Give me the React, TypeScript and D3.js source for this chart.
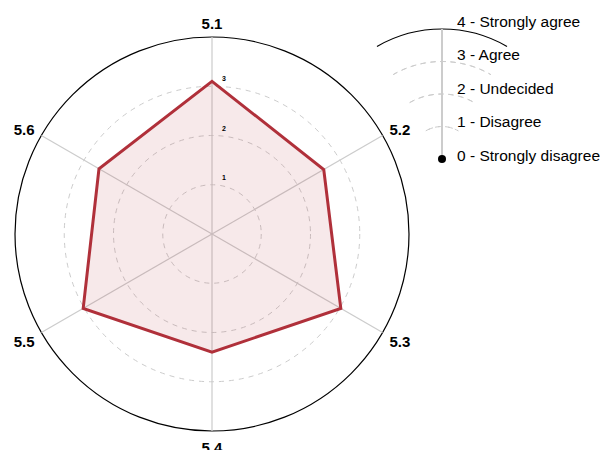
import React from "react";
import * as d3 from "d3";

const axes = ["5.1", "5.2", "5.3", "5.4", "5.5", "5.6"];
const values = [3.1, 2.62, 3.02, 2.4, 3.02, 2.65];
const levels = [1, 2, 3, 4];
const legendLabels = ["0 - Strongly disagree", "1 - Disagree", "2 - Undecided", "3 - Agree", "4 - Strongly agree"];

export default function App() {
  const W = 600, H = 450;
  const cx = 212, cy = 234, R = 197;
  const r = d3.scaleLinear().domain([0, 4]).range([0, R]);
  const angle = d3.scaleLinear().domain([0, axes.length]).range([0, 2 * Math.PI]);
  const pt = (i: number, v: number): [number, number] => {
    const a = angle(i);
    return [cx + r(v) * Math.sin(a), cy - r(v) * Math.cos(a)];
  };
  const line = d3.line<number>().x((v, i) => pt(i, v)[0]).y((v, i) => pt(i, v)[1]).curve(d3.curveLinearClosed);

  // legend
  const lx = 442, ly = 159, LR = 130;
  const lr = d3.scaleLinear().domain([0, 4]).range([0, LR]);
  const ltext = d3.scaleLinear().domain([0, 4]).range([-3.5, -3.5 - 4 * 33.6]);
  const arcSpan = (30 * Math.PI) / 180;
  const arc = (rad: number) =>
    d3.arc()({ innerRadius: rad, outerRadius: rad, startAngle: -arcSpan, endAngle: arcSpan } as any) || "";

  return (
    <svg width={W} height={H} style={{ position: "absolute", left: 0, top: 0, fontFamily: "Liberation Sans, Arial, sans-serif" }}>
      <rect width={W} height={H} fill="#fff" />
      {levels.slice(0, 3).map((l) => (
        <circle key={l} cx={cx} cy={cy} r={r(l)} fill="none" stroke="#ccc" strokeDasharray="5,5" />
      ))}
      <circle cx={cx} cy={cy} r={r(4)} fill="none" stroke="#000" strokeWidth={1.2} />
      {axes.map((a, i) => {
        const [x, y] = pt(i, 4);
        return <line key={a} x1={cx} y1={cy} x2={x} y2={y} stroke="#ccc" strokeWidth={1.2} />;
      })}
      <path d={line(values) || ""} fill="rgba(176,40,50,0.1)" stroke="#b0303a" strokeWidth={3} strokeLinejoin="miter" />
      {levels.slice(0, 3).map((l) => (
        <text key={l} x={cx + 10} y={cy - r(l) - 5} fontSize={7} fontWeight="bold" textAnchor="start" fill="#000">
          {l}
        </text>
      ))}
      {axes.map((a, i) => {
        const ang = angle(i);
        const x = cx + (R + 20) * Math.sin(ang);
        const y = cy - (R + 15) * Math.cos(ang) + 1.2;
        return (
          <text key={a} x={x} y={y} fontSize={15} fontWeight="bold" textAnchor="middle" dominantBaseline="central">
            {a}
          </text>
        );
      })}
      <g transform={`translate(${lx},${ly})`}>
        {levels.slice(0, 3).map((l) => (
          <path key={l} d={arc(lr(l))} fill="none" stroke="#ccc" strokeDasharray="5,5" />
        ))}
        <path d={arc(lr(4))} fill="none" stroke="#000" strokeWidth={1.2} />
        <line x1={0} y1={0} x2={0} y2={-lr(4)} stroke="#ccc" strokeWidth={2} />
        <circle cx={0} cy={0} r={4} fill="#000" />
        {legendLabels.map((t, i) => (
          <text key={t} x={15} y={ltext(i)} fontSize={15.5} fill="#000" dominantBaseline="central">
            {t}
          </text>
        ))}
      </g>
    </svg>
  );
}
